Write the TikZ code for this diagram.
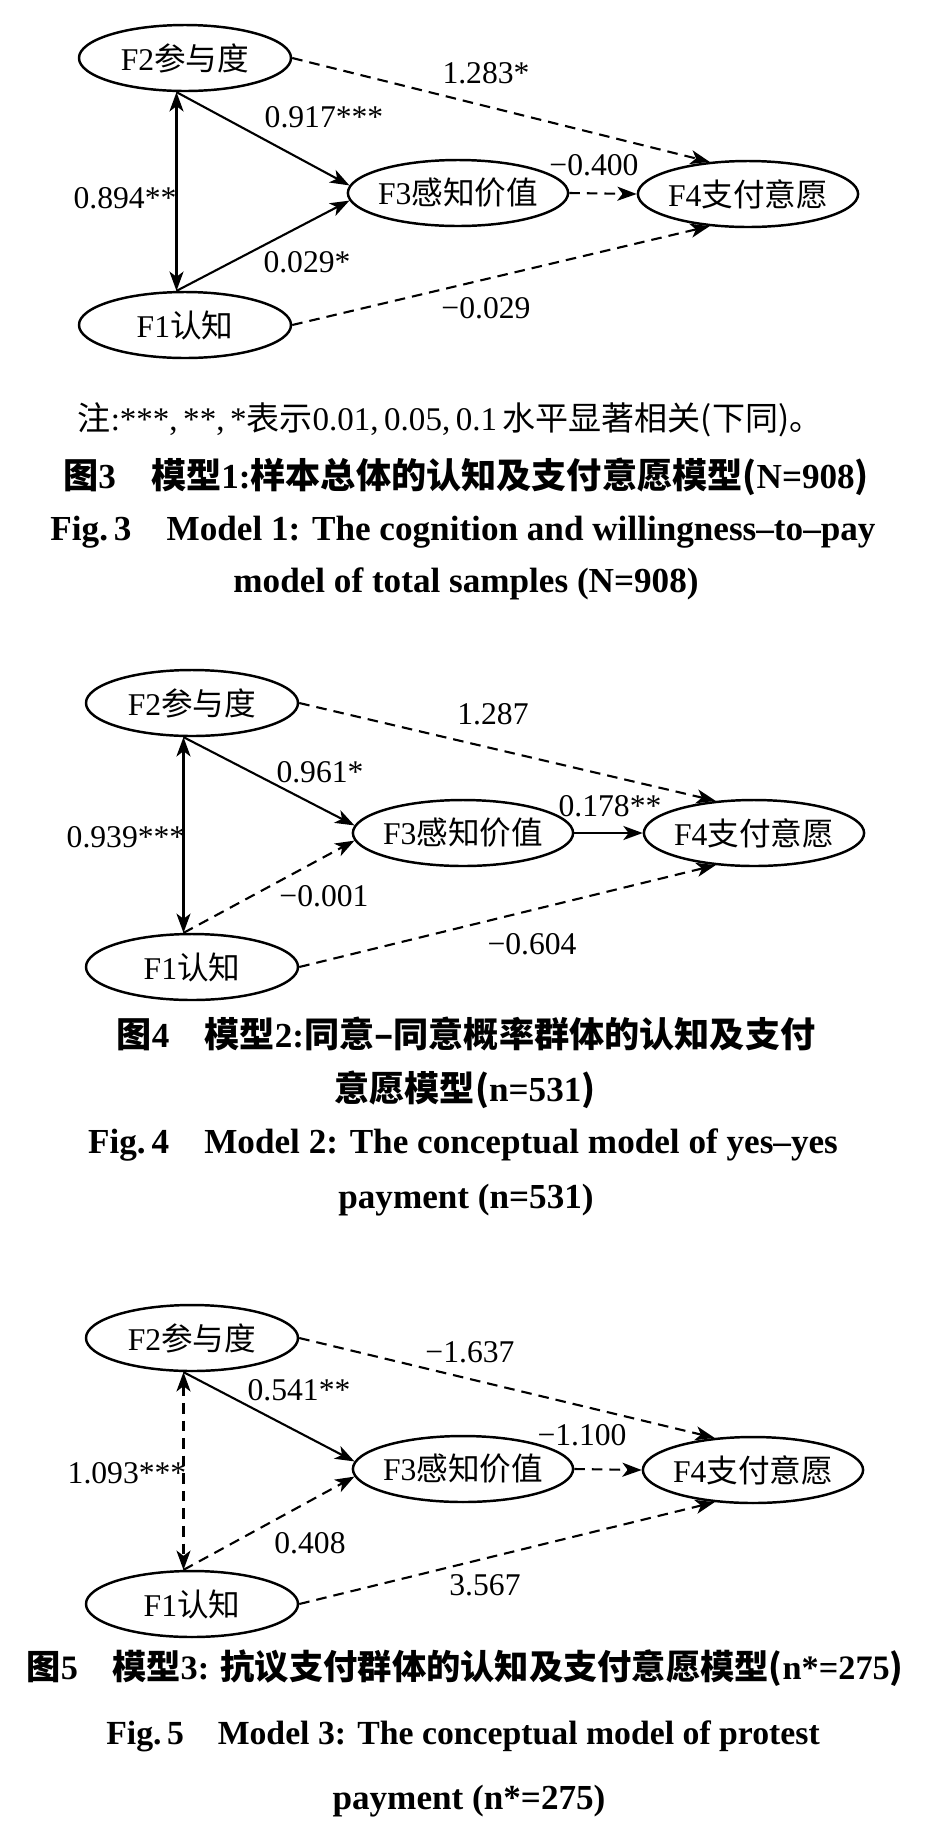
\documentclass[tikz,border=0pt]{standalone}
\usepackage{fontspec}
\setmainfont{Liberation Serif}
\newfontfamily\cjk{Noto Sans CJK SC}
\newcommand{\zh}[1]{{\cjk #1}}
\usetikzlibrary{shapes.geometric,arrows.meta}

\begin{document}
\begin{tikzpicture}[
    var/.style={draw, ellipse, line width=0.7pt, minimum width=2.12cm, minimum height=0.66cm,
        inner sep=-0.6pt, font=\fontsize{9}{10}\selectfont},
    path/.style={line width=0.6pt, -{Stealth[length=5.5pt,width=4pt,inset=1.5pt]}},
    both/.style={line width=0.6pt, {Stealth[length=5.5pt,width=4pt,inset=1.5pt]}-{Stealth[length=5.5pt,width=4pt,inset=1.5pt]}},
    dsh/.style={dash pattern=on 3pt off 2pt},
    coef/.style={inner sep=0pt, font=\fontsize{9}{10}\selectfont},
    note/.style={inner sep=0pt, font=\fontsize{9.4}{11}\selectfont},
    capzh/.style={inner sep=0pt, font=\bfseries\fontsize{10}{12}\selectfont},
    capen/.style={inner sep=0pt, font=\bfseries\fontsize{10}{12}\selectfont}]
    \useasboundingbox (0,0) rectangle (9.48,-18.41);
    %modello 1
    \node[var] (f2a) at (1.85,-0.58) {F2\zh{参与度}};
    \node[var] (f3a) at (4.58,-1.93) {F3\zh{感知价值}};
    \node[var] (f4a) at (7.48,-1.94) {F4\zh{支付意愿}};
    \node[var] (f1a) at (1.85,-3.25) {F1\zh{认知}};
    \draw[path] (f2a.256) -- (f3a.176);
    \draw[path] (f1a.104) -- (f3a.184);
    \draw[both] (f2a.256) -- (f1a.104);
    \draw[path,dsh] (f3a.east) -- (f4a.west);
    \draw[path,dsh] (f2a.east) -- (f4a.140);
    \draw[path,dsh] (f1a.east) -- (f4a.220);
    \node[coef] (c1a) at (4.86,-0.73) {1.283*};
    \node[coef] (c2a) at (3.24,-1.17) {0.917***};
    \node[coef] (c3a) at (1.25,-1.98) {0.894**};
    \node[coef] (c4a) at (5.94,-1.65) {−0.400};
    \node[coef] (c5a) at (3.07,-2.62) {0.029*};
    \node[coef] (c6a) at (4.86,-3.08) {−0.029};
    \node[note] (na) at (4.50,-4.20) {\zh{注}:***,\,**,\,*\zh{表示}0.01,\,0.05,\,0.1\,\zh{水平显著相关}\zh{(}\zh{下同}\zh{)}\zh{。}};
    \node[capzh] (za) at (4.66,-4.77) {\zh{图}3\quad\zh{模型}1:\zh{样本总体的认知及支付意愿模型(}N=908\zh{)}};
    \node[capen] (ea) at (4.63,-5.32) {Fig.\,3\quad Model 1: The cognition and willingness–to–pay};
    \node[capen] (eb) at (4.66,-5.84) {model of total samples (N=908)};
    %modello 2
    \node[var] (f2b) at (1.92,-7.03) {F2\zh{参与度}};
    \node[var] (f3b) at (4.63,-8.33) {F3\zh{感知价值}};
    \node[var] (f4b) at (7.54,-8.33) {F4\zh{支付意愿}};
    \node[var] (f1b) at (1.92,-9.67) {F1\zh{认知}};
    \draw[path] (f2b.256) -- (f3b.176);
    \draw[path,dsh] (f1b.104) -- (f3b.184);
    \draw[both] (f2b.256) -- (f1b.104);
    \draw[path] (f3b.east) -- (f4b.west);
    \draw[path,dsh] (f2b.east) -- (f4b.140);
    \draw[path,dsh] (f1b.east) -- (f4b.220);
    \node[coef] (c1b) at (4.93,-7.14) {1.287};
    \node[coef] (c2b) at (3.20,-7.72) {0.961*};
    \node[coef] (c3b) at (1.26,-8.37) {0.939***};
    \node[coef] (c4b) at (6.10,-8.06) {0.178**};
    \node[coef] (c5b) at (3.24,-8.96) {−0.001};
    \node[coef] (c6b) at (5.32,-9.44) {−0.604};
    \node[capzh] (zb) at (4.66,-10.34) {\zh{图}4\quad\zh{模型}2:\zh{同意–同意概率群体的认知及支付}};
    \node[capzh] (zb2) at (4.65,-10.90) {\zh{意愿模型(}n=531\zh{)}};
    \node[capen] (eb1) at (4.63,-11.45) {Fig.\,4\quad Model 2: The conceptual model of yes–yes};
    \node[capen] (eb2) at (4.66,-12.00) {payment (n=531)};
    %modello 3
    \node[var] (f2c) at (1.92,-13.38) {F2\zh{参与度}};
    \node[var] (f3c) at (4.63,-14.69) {F3\zh{感知价值}};
    \node[var] (f4c) at (7.53,-14.70) {F4\zh{支付意愿}};
    \node[var] (f1c) at (1.92,-16.04) {F1\zh{认知}};
    \draw[path] (f2c.256) -- (f3c.176);
    \draw[path,dsh] (f1c.104) -- (f3c.184);
    \draw[both,dsh] (f2c.256) -- (f1c.104);
    \draw[path,dsh] (f3c.east) -- (f4c.west);
    \draw[path,dsh] (f2c.east) -- (f4c.140);
    \draw[path,dsh] (f1c.east) -- (f4c.220);
    \node[coef] (c1c) at (4.70,-13.52) {−1.637};
    \node[coef] (c2c) at (2.99,-13.90) {0.541**};
    \node[coef] (c3c) at (1.27,-14.73) {1.093***};
    \node[coef] (c4c) at (5.82,-14.35) {−1.100};
    \node[coef] (c5c) at (3.10,-15.43) {0.408};
    \node[coef] (c6c) at (4.85,-15.85) {3.567};
    \node[capzh,font=\bfseries\fontsize{9.75}{12}\selectfont] (zc) at (4.65,-16.68) {\zh{图}5\quad\zh{模型}3: \zh{抗议支付群体的认知及支付意愿模型(}n*=275\zh{)}};
    \node[capen,font=\bfseries\fontsize{9.6}{12}\selectfont] (ec1) at (4.63,-17.36) {Fig.\,5\quad Model 3: The conceptual model of protest};
    \node[capen] (ec2) at (4.69,-18.01) {payment (n*=275)};
\end{tikzpicture}
\end{document}
